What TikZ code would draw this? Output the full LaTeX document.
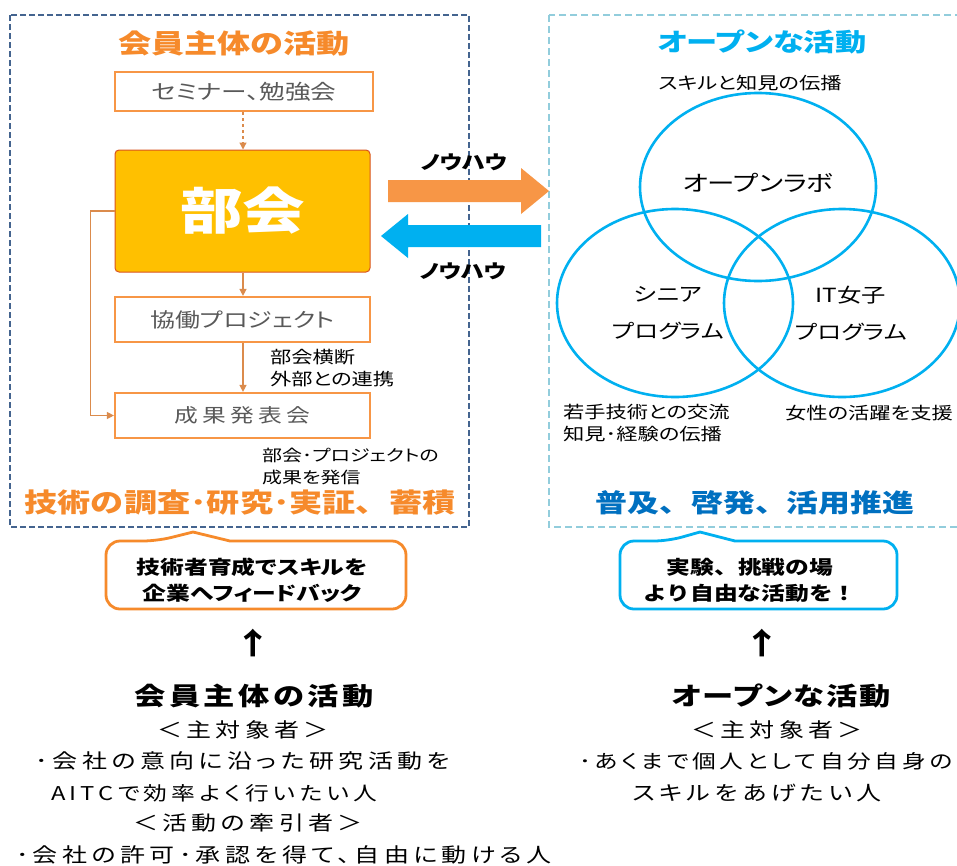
\documentclass[tikz,border=0pt]{standalone}
\usepackage{fontspec}
\setmainfont{Noto Sans CJK JP}[FakeStretch=1.25,CharacterWidth=AlternateProportional]
\newfontfamily\jpfw{Noto Sans CJK JP}[FakeStretch=1.25]
\newfontfamily\jpsp{Noto Sans CJK JP}[FakeStretch=1.25,LetterSpace=22,CharacterWidth=AlternateProportional]
\newfontfamily\jpspn{Noto Sans CJK JP}[FakeStretch=1.25,LetterSpace=19,CharacterWidth=AlternateProportional]
\newfontfamily\jpspb{Noto Sans CJK JP}[FakeStretch=1.25,LetterSpace=14,CharacterWidth=AlternateProportional]
\newfontfamily\jpspc{Noto Sans CJK JP}[FakeStretch=1.25,LetterSpace=7,CharacterWidth=AlternateProportional]
\usetikzlibrary{arrows.meta}
\definecolor{orgT}{HTML}{F68A2B}
\definecolor{orgB}{HTML}{F79646}
\definecolor{orgL}{HTML}{DB8B4C}
\definecolor{gold}{HTML}{FFC000}
\definecolor{goldB}{HTML}{D9541E}
\definecolor{cyanB}{HTML}{00B0F0}
\definecolor{blueT}{HTML}{0070C0}
\definecolor{navyD}{HTML}{44648F}
\definecolor{lblue}{HTML}{92CDDC}
\definecolor{grayT}{HTML}{595959}
\newcommand{\fs}[2]{\fontsize{#1}{#2}\selectfont}
\tikzset{
  obox/.style={draw=orgB,line width=2.2pt,fill=white,text=grayT,minimum width=255pt,minimum height=45pt,inner sep=0pt},
  flow/.style={draw=orgL,line width=1.3pt,-{Triangle[length=7pt,width=7pt]}},
  venn/.style={draw=cyanB,line width=2.6pt},
  lbl/.style={inner sep=0pt,text=black},
  callout/.style={line width=2.8pt,fill=white},
}
\begin{document}
\begin{tikzpicture}[x=1pt,y=-1pt]
\useasboundingbox (0,0) rectangle (957,865);
\fill[white] (0,0) rectangle (957,865);
% dashed frames
\draw[navyD,line width=1.8pt,dash pattern=on 6pt off 3pt] (10,15) rectangle (469,527);
\draw[lblue,line width=1.8pt,dash pattern=on 7pt off 4pt] (549,15) rectangle (975,527);
% left side
\node[lbl,text=orgT,font=\fs{26.5}{30}\bfseries] (tl) at (234,43) {会員主体の活動};
\node[obox,minimum width=258pt,minimum height=39pt,font=\fs{20.5}{22}] (sem) at (244,91.5) {セミナー、勉強会};
\node[draw=goldB,line width=1pt,fill=gold,rounded corners=4pt,minimum width=255pt,minimum height=122pt,text=white,font=\fs{50}{56}\bfseries] (bukai) at (242.5,211) {部会};
\node[obox,font=\fs{20}{22}] (kyodo) at (242.5,319.5) {協働プロジェクト};
\node[obox,font=\jpsp\fs{19}{22}] (seika) at (242.5,415.5) {成果発表会};
\draw[flow,dashed] (sem.south -| 243,0) -- (bukai.north -| 243,0);
\draw[flow] (bukai.south -| 243,0) -- (kyodo.north -| 243,0);
\draw[flow] (kyodo.south -| 243,0) -- (seika.north -| 243,0);
\draw[flow] (bukai.west) -- ++(-24,0) |- (seika.west);
\node[lbl,anchor=west,align=left,font=\fs{17}{22}] (l1) at (270,368) {部会横断\\外部との連携};
\node[lbl,anchor=west,align=left,font=\fs{16}{22}] (l2) at (262,466) {部会･プロジェクトの\\成果を発信};
\node[lbl,text=orgT,font=\jpfw\fs{26.5}{30}\bfseries] (tl2) at (240,503) {技術の調査･研究･実証、蓄積};
% block arrows
\fill[orgB] (388,180) -- (521,180) -- (521,168) -- (549,191) -- (521,214) -- (521,202) -- (388,202) -- cycle;
\fill[cyanB] (541,225) -- (408,225) -- (408,214) -- (381,236) -- (408,258) -- (408,247) -- (541,247) -- cycle;
\node[lbl,font=\fs{19}{22}\bfseries] (kh1) at (464,162) {ノウハウ};
\node[lbl,font=\fs{19}{22}\bfseries] (kh2) at (463,271) {ノウハウ};
% right side
\node[lbl,text=cyanB,font=\fs{25}{30}\bfseries] (tr) at (762,42) {オープンな活動};
\node[lbl,font=\fs{17}{20}] (sk) at (750,83) {スキルと知見の伝播};
\draw[venn] (758,187) ellipse [x radius=118, y radius=94];
\draw[venn] (675,303) ellipse [x radius=118, y radius=94];
\draw[venn] (842,303) ellipse [x radius=118, y radius=94];
\node[lbl,font=\fs{22}{24}] (ol) at (758,183) {オープンラボ};
\node[lbl,align=center,font=\fs{19.5}{37}] (sn) at (668,313) {シニア\\プログラム};
\node[lbl,align=center,font=\fs{19.5}{37}] (it) at (851,313) {IT女子\\プログラム};
\node[lbl,anchor=west,align=left,font=\fs{17}{22}] (w1) at (563,423) {若手技術との交流\\知見･経験の伝播};
\node[lbl,font=\fs{17}{22}] (w2) at (869,413) {女性の活躍を支援};
\node[lbl,text=blueT,font=\jpfw\fs{25.5}{30}\bfseries] (tr2) at (755,503) {普及、啓発、活用推進};
% callouts
\draw[callout,draw=orgT] (106,575) [rounded corners=14pt] |- (157,541) [sharp corners] -- (193,532) -- (230,541) [rounded corners=14pt] -| (406,575) |- (106,609) -- cycle;
\node[lbl,align=center,font=\fs{19}{26}\bfseries] (fb) at (252,580) {技術者育成でスキルを\\企業へフィードバック};
\draw[callout,draw=cyanB] (620,575) [rounded corners=14pt] |- (668,541) [sharp corners] -- (700,532) -- (735,541) [rounded corners=14pt] -| (897,575) |- (620,609) -- cycle;
\node[lbl,align=center,font=\jpfw\fs{19}{26}\bfseries] (ex) at (750,580) {実験、挑戦の場\\より自由な活動を！};
\node[lbl,font=\fs{30}{32}\bfseries] (up1) at (253,643) {↑};
\node[lbl,font=\fs{30}{32}\bfseries] (up2) at (762,643) {↑};
% bottom text
\node[lbl,font=\jpspb\fs{25}{28}\bfseries] (b1) at (254,696) {会員主体の活動};
\node[lbl,font=\jpsp\fs{20}{24}] (b2) at (243,730) {＜主対象者＞};
\node[lbl,font=\jpsp\fs{20}{24}] (b3) at (243,761) {･会社の意向に沿った研究活動を};
\node[lbl,font=\jpsp\fs{19}{24}] (b4) at (214,793) {AITCで効率よく行いたい人};
\node[lbl,font=\jpsp\fs{20}{24}] (b5) at (248,823) {＜活動の牽引者＞};
\node[lbl,font=\jpsp\fs{20}{24}] (b6) at (284,855) {･会社の許可･承認を得て、自由に動ける人};
\node[lbl,font=\jpspc\fs{25}{28}\bfseries] (c1) at (781,696) {オープンな活動};
\node[lbl,font=\jpsp\fs{20}{24}] (c2) at (777,730) {＜主対象者＞};
\node[lbl,font=\jpspn\fs{19}{24}] (c3) at (766,761) {･あくまで個人として自分自身の};
\node[lbl,font=\jpsp\fs{20}{24}] (c4) at (757,793) {スキルをあげたい人};
\end{tikzpicture}
\end{document}
